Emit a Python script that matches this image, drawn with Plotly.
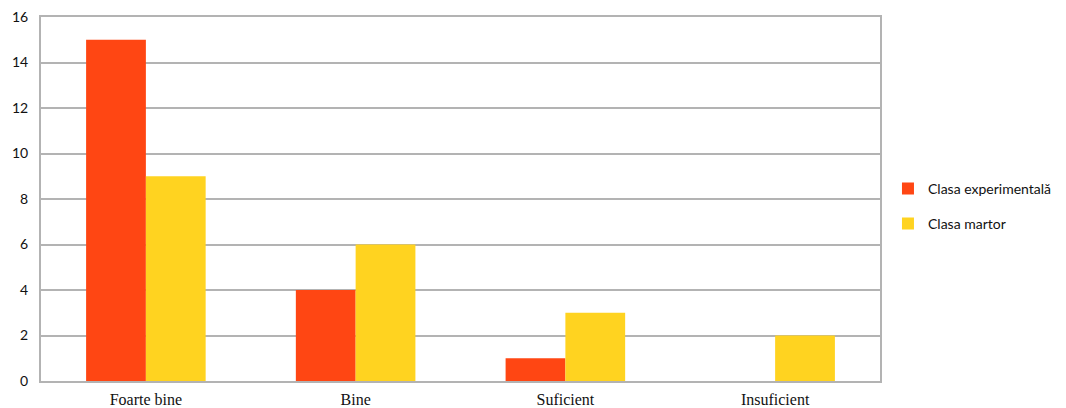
import plotly.graph_objects as go

categories = ["Foarte bine", "Bine", "Suficient", "Insuficient"]
experimentala = [15, 4, 1, 0]
martor = [9, 6, 3, 2]
series_names = ["Clasa experimentală", "Clasa martor"]
y_ticks = [0, 2, 4, 6, 8, 10, 12, 14, 16]

fig = go.Figure()
fig.add_trace(go.Bar(x=categories, y=experimentala, name=series_names[0], legendgroup="a",
                     marker=dict(color="#FF4613", line=dict(width=0))))
fig.add_trace(go.Bar(x=categories, y=martor, name=series_names[1], legendgroup="b",
                     marker=dict(color="#FFD320", line=dict(width=0))))

# page body has an 8px margin, so the figure is offset by (8, 8)
fig.update_layout(
    width=1058, height=400,
    margin=dict(l=33, r=186, t=9, b=27, autoexpand=False),
    plot_bgcolor="white", paper_bgcolor="white",
    barmode="group", bargap=0.43, bargroupgap=0,
    font=dict(family="Lato", size=14, color="#111"),
    legend=dict(x=1.0095, y=0.48, yanchor="middle", xanchor="left",
                font=dict(family="Lato", size=14, color="#111"),
                traceorder="grouped", tracegroupgap=14,
                bgcolor="rgba(0,0,0,0)", borderwidth=0),
    showlegend=True,
)
fig.update_xaxes(
    showline=True, linecolor="#b3b3b3", linewidth=2, mirror=True,
    tickfont=dict(family="Liberation Serif", size=16, color="#111"),
    ticks="outside", ticklen=3, tickcolor="rgba(0,0,0,0)", showgrid=False, automargin=False,
)
fig.update_yaxes(
    range=[0, 16], tickvals=y_ticks, showgrid=True, gridcolor="#b3b3b3", gridwidth=2,
    showline=True, linecolor="#b3b3b3", linewidth=2, mirror=True,
    tickfont=dict(family="Lato", size=14, color="#111"), ticklabeloverflow="allow",
    ticks="outside", ticklen=8, tickcolor="rgba(0,0,0,0)", zeroline=False, automargin=False,
)
fig.write_html("out.html")
